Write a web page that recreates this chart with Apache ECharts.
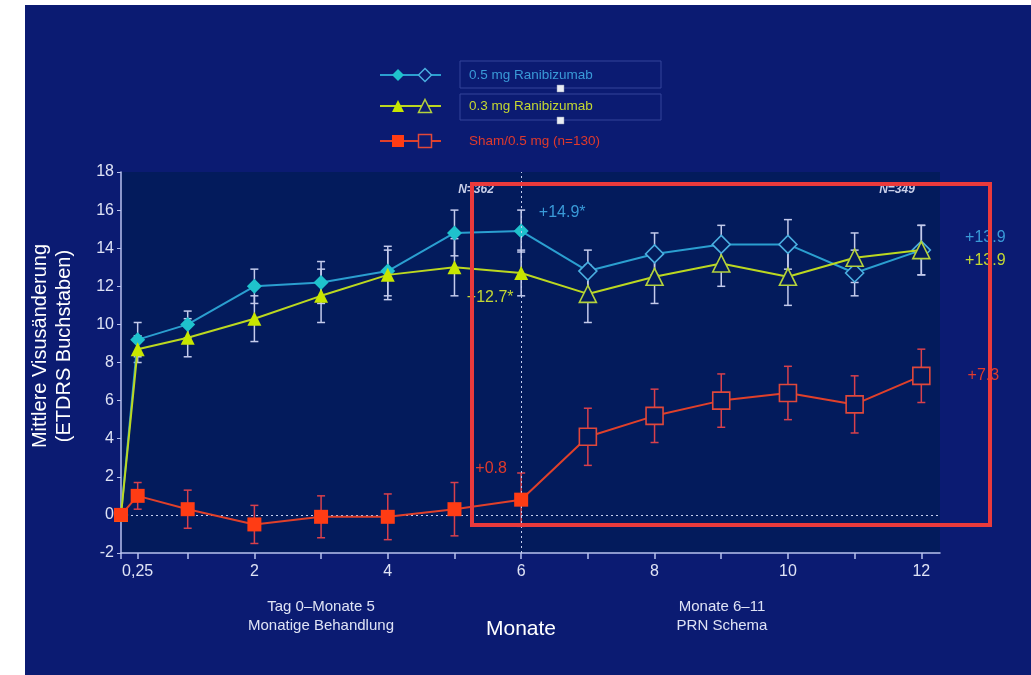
<!DOCTYPE html>
<html>
<head>
<meta charset="utf-8">
<script src="https://cdn.jsdelivr.net/npm/echarts@6/dist/echarts.min.js"></script>
<style>
  html, body { margin: 0; padding: 0; background: #ffffff; width: 1031px; height: 675px; overflow: hidden; }
  #bg { position: absolute; left: 25px; top: 5px; width: 1006px; height: 670px; background: #0b1b72; }
  #chart { position: absolute; left: 0; top: 0; width: 1031px; height: 675px; }
</style>
</head>
<body>
<div id="bg"></div>
<div id="chart"></div>
<script>
// Visit months (0 = baseline, 0.25 = day 7)
const months = [0, 0.25, 1, 2, 3, 4, 5, 6, 7, 8, 9, 10, 11, 12];
const xTickValues = [0, 0.25, 1, 2, 3, 4, 5, 6, 7, 8, 9, 10, 11, 12];
const xLabelValues = [0.25, 2, 4, 6, 8, 10, 12];

// Mean change in BCVA (ETDRS letters) and standard errors
const ranib05 = [0, 9.2, 10.0, 12.0, 12.2, 12.8, 14.8, 14.9, 12.8, 13.7, 14.2, 14.2, 12.7, 13.9];
const ranib05Err = [0, 0.9, 0.7, 0.9, 1.1, 1.3, 1.2, 1.1, 1.1, 1.1, 1.0, 1.3, 1.2, 1.3];
const ranib03 = [0, 8.7, 9.3, 10.3, 11.5, 12.6, 13.0, 12.7, 11.6, 12.5, 13.2, 12.5, 13.5, 13.9];
const ranib03Err = [0, 0.7, 1.0, 1.2, 1.4, 1.3, 1.5, 1.2, 1.5, 1.4, 1.2, 1.5, 1.3, 1.3];
const sham = [0, 1.0, 0.3, -0.5, -0.1, -0.1, 0.3, 0.8, 4.1, 5.2, 6.0, 6.4, 5.8, 7.3];
const shamErr = [0, 0.7, 1.0, 1.0, 1.1, 1.2, 1.4, 1.4, 1.5, 1.4, 1.4, 1.4, 1.5, 1.4];

const seriesNames = ['0.5 mg Ranibizumab', '0.3 mg Ranibizumab', 'Sham/0.5 mg (n=130)'];
const prnStart = 6;        // monthly dosing up to month 6, PRN afterwards (hollow symbols)
const nCounts = ['N=362', 'N=349'];

const plotBg = '#031b5c';
const font = '"Liberation Sans", Arial, sans-serif';

const styles = [
  { line: '#2b9fd0', fill: '#1fc2cc', edge: '#4aaee0', sym: 'diamond', sF: 15, sH: 18, text: '#3a9ad8' },
  { line: '#bcd820', fill: '#c8e600', edge: '#b4d23c', sym: 'triangle', sF: 14, sH: 17, text: '#c4d832' },
  { line: '#e0402a', fill: '#ff3c14', edge: '#e0483a', sym: 'rect', sF: 14, sH: 17, text: '#e03a2c' }
];

const fmt = v => '+' + v.toFixed(1);

// value labels attached to individual points: [series, index, text, offset]
const pointLabels = [
  [0, 7, fmt(ranib05[7]) + '*', [41, -18]],
  [1, 7, fmt(ranib03[7]) + '*', [-31, 25]],
  [2, 7, fmt(sham[7]), [-30, -31]],
  [0, 13, fmt(ranib05[13]), [64, -13]],
  [1, 13, fmt(ranib03[13]), [64, 10]],
  [2, 13, fmt(sham[13]), [62, 0]]
];

function points(vals, si) {
  const s = styles[si];
  return months.map((m, i) => {
    const hollow = m > prnStart;
    const item = {
      value: [m, vals[i]],
      symbol: s.sym,
      symbolSize: hollow ? s.sH : s.sF,
      itemStyle: hollow
        ? { color: plotBg, borderColor: s.edge, borderWidth: 1.6 }
        : { color: s.fill, borderWidth: 0 }
    };
    pointLabels.forEach(([ps, pi, txt, off]) => {
      if (ps === si && pi === i) {
        item.label = { show: true, position: 'inside', offset: off, formatter: txt,
          color: s.text, fontSize: 16, fontFamily: font };
      }
    });
    return item;
  });
}

function errorBars(vals, errs, color, z) {
  return {
    type: 'custom', z: z, silent: true,
    data: months.map((m, i) => [m, vals[i] - errs[i], vals[i] + errs[i]]).filter((d, i) => errs[i] > 0),
    encode: { x: 0, y: [1, 2] },
    renderItem(params, api) {
      const lo = api.coord([api.value(0), api.value(1)]);
      const hi = api.coord([api.value(0), api.value(2)]);
      const w = 4;
      const st = { stroke: color, lineWidth: 1.5 };
      return { type: 'group', children: [
        { type: 'line', shape: { x1: hi[0], y1: hi[1], x2: lo[0], y2: lo[1] }, style: st },
        { type: 'line', shape: { x1: hi[0] - w, y1: hi[1], x2: hi[0] + w, y2: hi[1] }, style: st },
        { type: 'line', shape: { x1: lo[0] - w, y1: lo[1], x2: lo[0] + w, y2: lo[1] }, style: st }
      ]};
    }
  };
}

function lineSeries(vals, si, z) {
  const s = styles[si];
  return {
    type: 'line', name: seriesNames[si], z: z,
    data: points(vals, si),
    lineStyle: { color: s.line, width: 2 },
    itemStyle: { color: s.fill },
    emphasis: { disabled: true },
    animation: false
  };
}

// legend symbols drawn as shapes
function legendSymbol(kind, cx, cy, size, fill, stroke) {
  const h = size / 2;
  const style = { fill: fill, stroke: stroke, lineWidth: stroke ? 1.5 : 0 };
  if (kind === 'diamond') return { type: 'polygon', shape: { points: [[cx, cy - h], [cx + h, cy], [cx, cy + h], [cx - h, cy]] }, style, z: 20 };
  if (kind === 'triangle') return { type: 'polygon', shape: { points: [[cx, cy - h], [cx + h, cy + h], [cx - h, cy + h]] }, style, z: 20 };
  return { type: 'rect', shape: { x: cx - h, y: cy - h, width: size, height: size }, style, z: 20 };
}

const legendRows = [75, 106, 141];
const legendGraphics = [];
styles.forEach((s, i) => {
  const y = legendRows[i];
  legendGraphics.push({ type: 'line', shape: { x1: 380, y1: y, x2: 441, y2: y }, style: { stroke: s.line, lineWidth: 2 }, z: 19 });
  legendGraphics.push(legendSymbol(s.sym, 398, y, 12, s.fill, null));
  legendGraphics.push(legendSymbol(s.sym, 425, y, 13, '#0b1b72', s.edge));
  legendGraphics.push({ type: 'text', x: 469, y: y, style: { text: seriesNames[i], fill: s.text, font: '13.5px ' + font, textVerticalAlign: 'middle' }, z: 20 });
});
[[61, 27], [94, 26]].forEach(([y, h]) => {
  legendGraphics.push({ type: 'rect', shape: { x: 460, y: y, width: 201, height: h }, style: { fill: 'none', stroke: '#34449a', lineWidth: 1 }, z: 18 });
  legendGraphics.push({ type: 'rect', shape: { x: 557, y: y + h - 3, width: 7, height: 7 }, style: { fill: '#e8ecf4', stroke: '#8890b0', lineWidth: 0.5 }, z: 21 });
});

const textColor = '#dfe3f5';

const option = {
  backgroundColor: 'transparent',
  animation: false,
  grid: { left: 121, top: 172, width: 819, height: 381, show: true, backgroundColor: plotBg, borderWidth: 0 },
  xAxis: {
    type: 'value', min: 0, max: 12.28,
    axisLine: { show: true, onZero: false, lineStyle: { color: '#b8c2ee', width: 1.5 } },
    axisTick: { show: true, customValues: xTickValues, length: 6, lineStyle: { color: '#b8c2ee', width: 1.5 } },
    axisLabel: { customValues: xLabelValues, color: textColor, fontSize: 16, fontFamily: font, margin: 11,
      formatter: v => (v === 0.25 ? '0,25' : String(v)) },
    splitLine: { show: false }
  },
  yAxis: {
    type: 'value', min: -2, max: 18, interval: 2,
    axisLine: { show: true, onZero: false, lineStyle: { color: '#b8c2ee', width: 1.5 } },
    axisTick: { show: true, length: 4, lineStyle: { color: '#b8c2ee' } },
    axisLabel: { color: textColor, fontSize: 16, fontFamily: font, margin: 7 },
    splitLine: { show: false }
  },
  series: [
    errorBars(ranib05, ranib05Err, '#c4cbec', 2),
    errorBars(ranib03, ranib03Err, '#c4cbec', 2),
    errorBars(sham, shamErr, '#d8404c', 2),
    Object.assign(lineSeries(ranib05, 0, 4), {
      markLine: {
        silent: true, symbol: 'none', label: { show: false },
        lineStyle: { color: '#c8d0f0', type: [2, 3], width: 1 },
        data: [{ yAxis: 0 }, { xAxis: prnStart }]
      }
    }),
    lineSeries(ranib03, 1, 5),
    lineSeries(sham, 2, 6)
  ],
  graphic: [
    // axis titles and phase captions
    { type: 'text', x: 40, y: 346, rotation: Math.PI / 2,
      style: { text: 'Mittlere Visusänderung', fill: '#ffffff', font: '20px ' + font, textAlign: 'center', textVerticalAlign: 'middle' } },
    { type: 'text', x: 64, y: 346, rotation: Math.PI / 2,
      style: { text: '(ETDRS Buchstaben)', fill: '#ffffff', font: '20px ' + font, textAlign: 'center', textVerticalAlign: 'middle' } },
    { type: 'text', x: 521, y: 629, style: { text: 'Monate', fill: '#ffffff', font: '21px ' + font, textAlign: 'center', textVerticalAlign: 'middle' } },
    { type: 'text', x: 321, y: 616, style: { text: 'Tag 0–Monate 5\nMonatige Behandlung', fill: textColor, font: '15px ' + font, lineHeight: 19, textAlign: 'center', textVerticalAlign: 'middle' } },
    { type: 'text', x: 722, y: 616, style: { text: 'Monate 6–11\nPRN Schema', fill: textColor, font: '15px ' + font, lineHeight: 19, textAlign: 'center', textVerticalAlign: 'middle' } },
    // patient counts
    { type: 'text', x: 476, y: 190, style: { text: nCounts[0], fill: '#c8cee8', font: 'italic bold 12px ' + font, textAlign: 'center', textVerticalAlign: 'middle' }, z: 10 },
    { type: 'text', x: 897, y: 190, style: { text: nCounts[1], fill: '#c8cee8', font: 'italic bold 12px ' + font, textAlign: 'center', textVerticalAlign: 'middle' }, z: 10 },
    // highlight frame around the PRN phase
    { type: 'rect', shape: { x: 472, y: 184, width: 518, height: 341 }, style: { fill: 'none', stroke: '#ea3a3c', lineWidth: 4 }, z: 100 }
  ].concat(legendGraphics)
};

const chart = echarts.init(document.getElementById('chart'), null, { renderer: 'canvas' });
chart.setOption(option);
</script>
</body>
</html>
